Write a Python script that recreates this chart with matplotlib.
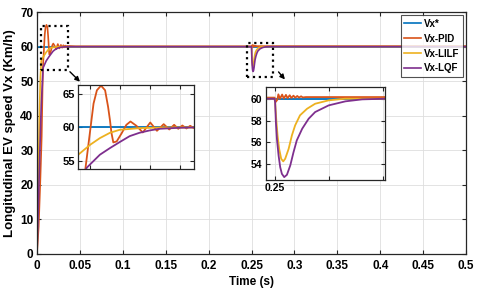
import matplotlib
matplotlib.use('Agg')
import matplotlib.pyplot as plt
from matplotlib.patches import Rectangle

plt.rcParams['font.family'] = ['Liberation Sans', 'DejaVu Sans']
plt.rcParams['font.weight'] = 'bold'

# values (time in s, speed in km/h)
t_ref = [0, 0.5]
v_ref = [60, 60]

t_pid = [0, 0.002, 0.004, 0.0055, 0.0069, 0.0091, 0.0100, 0.0111, 0.0122, 0.0130, 0.0135,
         0.0139, 0.0144, 0.0153, 0.0166, 0.0179, 0.0190, 0.0206, 0.0223, 0.0243, 0.0261,
         0.0279, 0.0294, 0.0307, 0.0318, 0.0329, 0.0340, 0.0350, 0.0360, 0.0370, 0.045,
         0.2500, 0.2502, 0.2505, 0.2507, 0.2510, 0.2514, 0.2517, 0.2521, 0.2524, 0.2528,
         0.2531, 0.2535, 0.2538, 0.2542, 0.2545, 0.2549, 0.2552, 0.2558, 0.5]
v_pid = [0, 8, 22, 34, 53.7, 63.6, 65.6, 66.3, 65.6, 63.1, 61.1,
         59.2, 57.75, 57.9, 59.1, 60.4, 60.9, 60.25, 59.25, 60.75, 59.5,
         60.5, 59.7, 60.4, 59.8, 60.3, 59.85, 60.25, 59.9, 60.2, 60.1,
         60.1, 59.7, 59.9, 60.4, 60.0, 60.38, 60.02, 60.35, 60.05, 60.32,
         60.07, 60.28, 60.09, 60.25, 60.1, 60.22, 60.12, 60.15, 60.15]

t_lilf = [0, 0.001, 0.002, 0.003, 0.004, 0.005, 0.0082, 0.0108, 0.0135, 0.0161, 0.0214, 0.028,
          0.25, 0.2501, 0.2503, 0.25055, 0.25085, 0.25122, 0.2516, 0.25196, 0.2526, 0.2532,
          0.2538, 0.2547, 0.256, 0.2575, 0.26, 0.263, 0.5]
v_lilf = [0, 14, 28, 42, 51, 55.9, 57.4, 58.4, 59.2, 59.65, 59.9, 60,
          60, 59.7, 58.17, 56.64, 55.4, 54.5, 54.26, 54.5, 55.41, 56.64,
          57.56, 58.48, 59.08, 59.54, 59.85, 60, 60]

t_lqf = [0, 0.001, 0.002, 0.0035, 0.005, 0.0072, 0.0108, 0.0135, 0.0161, 0.0188, 0.0214,
         0.0241, 0.0267, 0.032, 0.036, 0.25, 0.2501, 0.25024, 0.25043, 0.25074, 0.25104,
         0.25135, 0.25178, 0.25228, 0.2529, 0.2535, 0.2541, 0.2551, 0.2563, 0.2575, 0.26,
         0.2631, 0.2662, 0.2705, 0.5]
v_lqf = [0, 8, 17, 31, 43, 53.9, 55.9, 56.9, 57.8, 58.7, 59.2,
         59.55, 59.8, 59.95, 60, 60, 59.7, 57.86, 56.33, 54.8, 53.73,
         53.12, 52.82, 53.03, 53.89, 55.1, 56.18, 57.25, 58.17, 58.78, 59.39,
         59.76, 59.94, 60, 60]

labels = ['Vx*', 'Vx-PID', 'Vx-LILF', 'Vx-LQF']
colors = ['#0072BD', '#D95319', '#EDB120', '#7E2F8E']
series = [(t_ref, v_ref), (t_pid, v_pid), (t_lilf, v_lilf), (t_lqf, v_lqf)]

x_ticks = [0, 0.05, 0.1, 0.15, 0.2, 0.25, 0.3, 0.35, 0.4, 0.45, 0.5]
x_tick_labels = ['0', '0.05', '0.1', '0.15', '0.2', '0.25', '0.3', '0.35', '0.4', '0.45', '0.5']
y_ticks = [0, 10, 20, 30, 40, 50, 60, 70]


def style(a, fs=8.5):
    a.tick_params(direction='in', top=True, right=True, length=3, width=0.8,
                  labelsize=fs, color='#262626', pad=2.5)
    for lab in a.get_xticklabels() + a.get_yticklabels():
        lab.set_fontweight('bold')
    for s in a.spines.values():
        s.set_color('#262626')
        s.set_linewidth(0.9)
    a.grid(True, color='#dedede', linewidth=0.6)
    a.set_axisbelow(True)


def draw(a, lw):
    for (t, v), c, lab in zip(series, colors, labels):
        a.plot(t, v, color=c, lw=lw, label=lab)


fig = plt.figure(figsize=(4.8, 2.95), dpi=100)
ax = fig.add_axes([0.077, 0.139, 0.894, 0.82])
draw(ax, 1.2)
ax.set_xlim(0, 0.5)
ax.set_ylim(0, 70)
ax.set_xticks(x_ticks)
ax.set_xticklabels(x_tick_labels)
ax.set_yticks(y_ticks)
style(ax)
ax.tick_params(axis='x', pad=4.5)
ax.set_xlabel('Time (s)', fontsize=8.5, fontweight='bold', labelpad=3)
ax.set_ylabel('Longitudinal EV speed Vx (Km/h)', fontsize=9.5, fontweight='bold', labelpad=3)
leg = ax.legend(loc='upper right', prop={'size': 7, 'weight': 'bold'}, fancybox=False,
                edgecolor='#262626', borderpad=0.35, labelspacing=0.5, handlelength=1.7,
                handletextpad=0.3, borderaxespad=0.35)
leg.get_frame().set_linewidth(0.8)

# zoom boxes and arrows
ax.add_patch(Rectangle((0.0047, 53.2), 0.0313, 12.8, fill=False, ls=':', lw=1.6,
                       color='black', zorder=5))
ax.add_patch(Rectangle((0.2445, 51.3), 0.031, 9.8, fill=False, ls=':', lw=1.6,
                       color='black', zorder=5))
ax.annotate('', xy=(0.0524, 49.3), xytext=(0.0361, 53.3),
            arrowprops=dict(arrowstyle='-|>', color='black', lw=1, mutation_scale=7))
ax.annotate('', xy=(0.291, 49.9), xytext=(0.2794, 53.3),
            arrowprops=dict(arrowstyle='-|>', color='black', lw=1, mutation_scale=7))

# inset 1: start-up
ax1 = fig.add_axes([0.163, 0.426, 0.241, 0.286])
draw(ax1, 1.3)
ax1.set_xlim(0.005, 0.036)
ax1.set_ylim(53.7, 66.4)
ax1.set_xticks([0.0082, 0.0162, 0.0242, 0.0322])
ax1.set_xticklabels([])
ax1.set_yticks([55, 60, 65])
style(ax1, 8)

# inset 2: disturbance at 0.25 s
ax2 = fig.add_axes([0.554, 0.39, 0.248, 0.315])
draw(ax2, 1.3)
ax2.set_xlim(0.2484, 0.2704)
ax2.set_ylim(52.56, 61.07)
ax2.set_xticks([0.25, 0.26, 0.27])
ax2.set_xticklabels(['0.25', '', ''])
ax2.set_yticks([54, 56, 58, 60])
style(ax2, 7.5)

fig.savefig('out.png', dpi=100)
